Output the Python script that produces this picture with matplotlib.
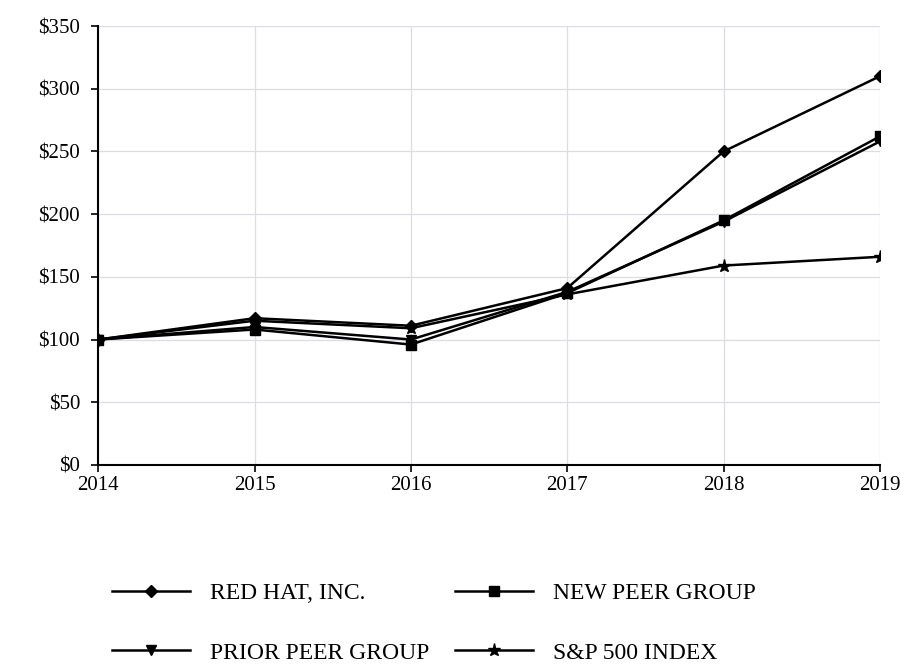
import matplotlib
matplotlib.use("Agg")
import matplotlib.pyplot as plt

years = [2014, 2015, 2016, 2017, 2018, 2019]
red_hat = [100, 117, 111, 141, 250, 310]
new_peer = [100, 108, 96, 137, 195, 262]
prior_peer = [100, 110, 100, 138, 194, 258]
sp500 = [100, 115, 109, 136, 159, 166]
y_ticks = [0, 50, 100, 150, 200, 250, 300, 350]
y_labels = ["$0", "$50", "$100", "$150", "$200", "$250", "$300", "$350"]

plt.rcParams['font.family'] = ['Liberation Serif', 'DejaVu Serif']

fig = plt.figure(figsize=(9.09, 6.68), dpi=100)
ax = fig.add_axes([0.108, 0.304, 0.860, 0.657])

l1, = ax.plot(years, red_hat, color='black', lw=1.8, marker='D', ms=6.5, label='RED HAT, INC.')
l2, = ax.plot(years, new_peer, color='black', lw=1.8, marker='s', ms=6.5, label='NEW PEER GROUP')
l3, = ax.plot(years, prior_peer, color='black', lw=1.8, marker='v', ms=6.5, label='PRIOR PEER GROUP')
l4, = ax.plot(years, sp500, color='black', lw=1.8, marker='*', ms=9.5, label='S&P 500 INDEX')

ax.set_xlim(2014, 2019)
ax.set_ylim(0, 350)
ax.set_xticks(years)
ax.set_xticklabels([str(y) for y in years], fontsize=15)
ax.set_yticks(y_ticks)
ax.set_yticklabels(y_labels, fontsize=15)
ax.grid(True, color='#dcdce4', lw=0.9)
ax.set_axisbelow(True)
for s in ['top', 'right']:
    ax.spines[s].set_visible(False)
ax.spines['left'].set_linewidth(1.5)
ax.spines['bottom'].set_linewidth(1.5)
ax.tick_params(axis='both', length=5, width=1.2, color='black')
ax.tick_params(axis='x', pad=3)
ax.tick_params(axis='y', pad=8)

fig.legend([l1, l3, l2, l4],
           [l1.get_label(), l3.get_label(), l2.get_label(), l4.get_label()],
           ncol=2, loc='upper left', bbox_to_anchor=(0.1, 0.16),
           frameon=False, fontsize=17, handlelength=3.3, handletextpad=0.85,
           labelspacing=1.62, columnspacing=1.1)

fig.savefig("out.png", dpi=100)
